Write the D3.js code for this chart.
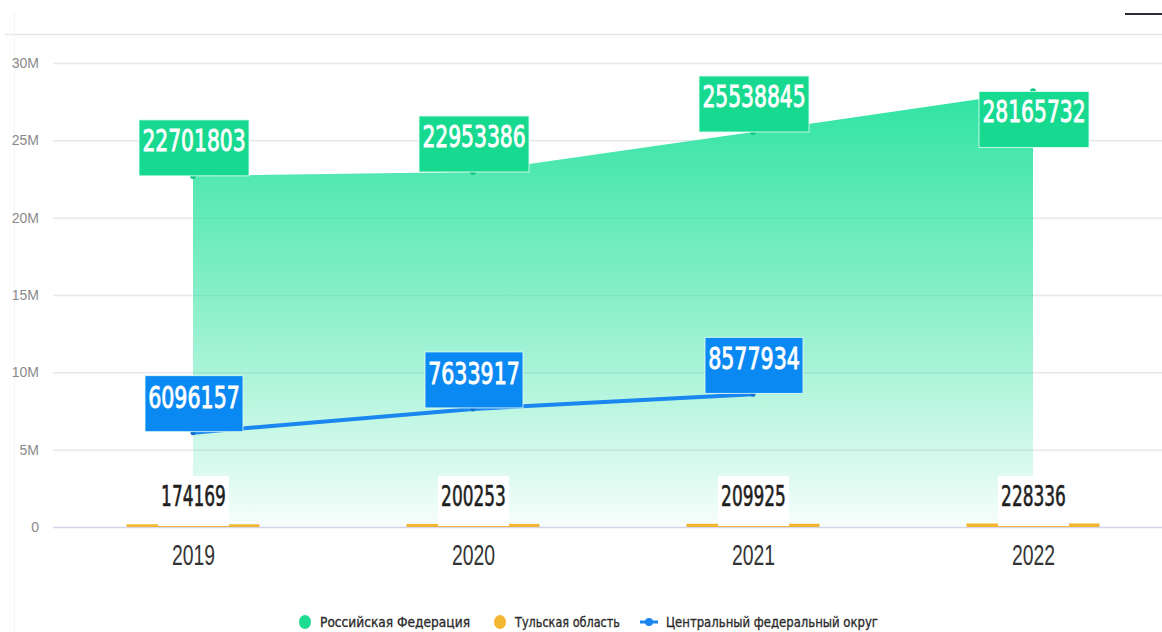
<!DOCTYPE html>
<html>
<head>
<meta charset="utf-8">
<script src="https://cdn.jsdelivr.net/npm/d3@7"></script>
<style>
  body { margin: 0; background: #fff; }
  svg { display: block; font-family: "Liberation Sans Narrow", "DejaVu Sans Condensed", sans-serif; }
</style>
</head>
<body>
<div id="chart"></div>
<script>
const years = ["2019", "2020", "2021", "2022"];
const russia = [22701803, 22953386, 25538845, 28165732];
const tula = [174169, 200253, 209925, 228336];
const central = [6096157, 7633917, 8577934];
const yTicks = [0, 5e6, 10e6, 15e6, 20e6, 25e6, 30e6];
const legendNames = ["Российская Федерация", "Тульская область", "Центральный федеральный округ"];

const W = 1162, H = 632;
const svg = d3.select("#chart").append("svg").attr("width", W).attr("height", H);

const x = d3.scalePoint().domain(years).range([53, 1173]).padding(0.5);
const y = d3.scaleLinear().domain([0, 30e6]).range([527, 63]);

// frame bits
svg.append("line").attr("x1", 5).attr("x2", W).attr("y1", 34.5).attr("y2", 34.5)
  .attr("stroke", "#e6e6ea").attr("stroke-width", 1.5);
svg.append("line").attr("x1", 14.5).attr("x2", 14.5).attr("y1", 12).attr("y2", H)
  .attr("stroke", "#f4f4f6");
svg.append("line").attr("x1", 1125).attr("x2", W).attr("y1", 14).attr("y2", 14)
  .attr("stroke", "#2a2a3a").attr("stroke-width", 2);

// grid
svg.append("g").attr("transform", "translate(53,0)")
  .call(d3.axisRight(y).tickValues(yTicks).tickSize(W - 53).tickFormat(""))
  .call(g => g.select(".domain").remove())
  .call(g => g.selectAll(".tick line").attr("stroke", d => d === 0 ? "#d4d4ee" : "#e8e8ec").attr("stroke-width", 1.5));

// y labels
svg.append("g").attr("transform", "translate(53,0)")
  .call(d3.axisLeft(y).tickValues(yTicks).tickSize(0).tickPadding(14)
    .tickFormat(d => d === 0 ? "0" : d / 1e6 + "M"))
  .call(g => g.select(".domain").remove())
  .call(g => g.selectAll("text").attr("fill", "#8a8a8a").attr("font-size", 14)
    .attr("font-family", "'Liberation Sans Narrow', sans-serif"));

// area gradient
const defs = svg.append("defs");
const grad = defs.append("linearGradient").attr("id", "ag")
  .attr("gradientUnits", "userSpaceOnUse").attr("x1", 0).attr("x2", 0)
  .attr("y1", y(d3.max(russia))).attr("y2", y(0));
grad.append("stop").attr("offset", 0).attr("stop-color", "#2ee3a2").attr("stop-opacity", 1);
grad.append("stop").attr("offset", 0.55).attr("stop-color", "#2ee3a2").attr("stop-opacity", 0.5);
grad.append("stop").attr("offset", 1).attr("stop-color", "#2ee3a2").attr("stop-opacity", 0.04);

const rData = years.map((yr, i) => ({ yr, v: russia[i] }));
svg.append("path").datum(rData)
  .attr("fill", "url(#ag)")
  .attr("d", d3.area().x(d => x(d.yr)).y0(y(0)).y1(d => y(d.v)));

// Tula bars
const bw = 133;
svg.append("g").selectAll("rect").data(years).join("rect")
  .attr("x", d => x(d) - bw / 2).attr("width", bw)
  .attr("y", (d, i) => y(tula[i])).attr("height", (d, i) => y(0) - y(tula[i]))
  .attr("fill", "#f2b630");

// Central line
const cData = central.map((v, i) => ({ yr: years[i], v }));
svg.append("path").datum(cData)
  .attr("fill", "none").attr("stroke", "#1a86ef").attr("stroke-width", 4)
  .attr("d", d3.line().x(d => x(d.yr)).y(d => y(d.v)));

// point markers
svg.append("g").selectAll("circle").data(rData).join("circle")
  .attr("cx", d => x(d.yr)).attr("cy", d => y(d.v)).attr("r", 3).attr("fill", "#12c984");
svg.append("g").selectAll("circle").data(cData).join("circle")
  .attr("cx", d => x(d.yr)).attr("cy", d => y(d.v)).attr("r", 2.5).attr("fill", "#0e6fcf");

function label(g, cx, top, w, h, fill, text, color, fs, perChar, ty, fw, sw) {
  g.append("rect").attr("x", cx - w / 2).attr("y", top).attr("width", w).attr("height", h)
    .attr("fill", fill).attr("stroke", fill === "#fff" ? "none" : "#e9fff5").attr("stroke-width", 0.8);
  g.append("text").attr("x", cx).attr("y", top + ty)
    .attr("text-anchor", "middle").attr("fill", color).attr("font-size", fs).attr("font-weight", fw)
    .attr("stroke", color).attr("stroke-width", sw)
    .attr("textLength", perChar * text.length).attr("lengthAdjust", "spacingAndGlyphs")
    .text(text);
}

// Tula labels
const tl = svg.append("g");
years.forEach((yr, i) => label(tl, x(yr) + 0.5, 476, 71, 50, "#fff", String(tula[i]), "#1e1e1e", 28, 10.8, 30, "normal", 0.6));

// Russia labels
const rl = svg.append("g");
rData.forEach(d => {
  const py = y(d.v);
  const top = py - 56 < y(30e6) ? py : py - 56;
  label(rl, x(d.yr) + 1, top, 110, 56, "#17d98f", String(d.v), "#fff", 31, 12.9, 31, "normal", 0.9);
});

// Central labels
const cl = svg.append("g");
cData.forEach(d => {
  label(cl, x(d.yr) + 1, y(d.v) - 57, 98, 56, "#0b89f3", String(d.v), "#fff", 31, 13.1, 32, "normal", 0.9);
});

// x axis labels
svg.append("g").attr("transform", `translate(0,${y(0)})`)
  .call(d3.axisBottom(x).tickSize(0).tickPadding(17))
  .call(g => g.select(".domain").remove())
  .call(g => g.selectAll("text").attr("fill", "#333").attr("font-size", 29)
    .attr("font-family", "'Liberation Sans Narrow', sans-serif")
    .attr("textLength", 43).attr("lengthAdjust", "spacingAndGlyphs"));

// legend
const legend = svg.append("g");
const lx = [305, 500, 649];
const ltx = [320, 515, 666];
const lw = [150, 105, 212];
const lcol = ["#1ddb91", "#f2b630", "#1a86ef"];
legendNames.forEach((name, i) => {
  if (i < 2) {
    legend.append("ellipse").attr("cx", lx[i]).attr("cy", 622).attr("rx", 6).attr("ry", 7).attr("fill", lcol[i]);
  } else {
    legend.append("line").attr("x1", lx[i] - 9).attr("x2", lx[i] + 9).attr("y1", 622).attr("y2", 622)
      .attr("stroke", lcol[i]).attr("stroke-width", 3);
    legend.append("circle").attr("cx", lx[i]).attr("cy", 622).attr("r", 4).attr("fill", lcol[i]);
  }
  legend.append("text").attr("x", ltx[i]).attr("y", 627).attr("fill", "#2a2a2a").attr("font-size", 14)
    .attr("stroke", "#2a2a2a").attr("stroke-width", 0.3)
    .attr("textLength", lw[i]).attr("lengthAdjust", "spacingAndGlyphs").text(name);
});
</script>
</body>
</html>
